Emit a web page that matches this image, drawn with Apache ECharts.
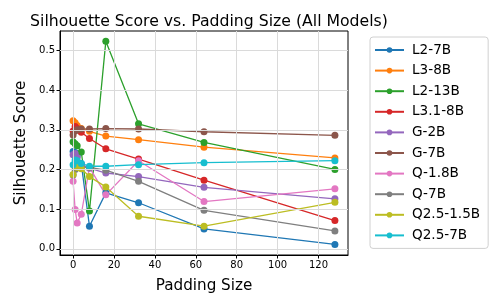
<!DOCTYPE html>
<html><head><meta charset="utf-8">
<script src="https://cdn.jsdelivr.net/npm/echarts@6/dist/echarts.min.js"></script>
<style>html,body{margin:0;padding:0;background:#fff}#c{width:498px;height:299px}</style>
</head><body><div id="c"></div>
<script>
const padding = [0, 1, 2, 4, 8, 16, 32, 64, 128];
const models = ['L2-7B','L3-8B','L2-13B','L3.1-8B','G-2B','G-7B','Q-1.8B','Q-7B','Q2.5-1.5B','Q2.5-7B'];
const colors = ['#1f77b4','#ff7f0e','#2ca02c','#d62728','#9467bd','#8c564b','#e377c2','#7f7f7f','#bcbd22','#17becf'];
const L2_7B    = [0.245, 0.243, 0.235, 0.215, 0.057, 0.141, 0.116, 0.050, 0.011];
const L3_8B    = [0.323, 0.318, 0.311, 0.303, 0.296, 0.284, 0.275, 0.256, 0.229];
const L2_13B   = [0.270, 0.265, 0.260, 0.244, 0.095, 0.523, 0.315, 0.268, 0.200];
const L31_8B   = [0.297, 0.308, 0.303, 0.294, 0.278, 0.252, 0.226, 0.173, 0.071];
const G_2B     = [0.237, 0.240, 0.230, 0.212, 0.203, 0.191, 0.182, 0.155, 0.126];
const G_7B     = [0.287, 0.297, 0.300, 0.302, 0.302, 0.303, 0.302, 0.295, 0.286];
const Q_1_8B   = [0.170, 0.099, 0.065, 0.087, 0.205, 0.136, 0.222, 0.119, 0.151];
const Q_7B     = [0.186, 0.200, 0.205, 0.205, 0.205, 0.198, 0.170, 0.097, 0.045];
const Q25_1_5B = [0.187, 0.210, 0.205, 0.202, 0.182, 0.156, 0.082, 0.057, 0.117];
const Q25_7B   = [0.212, 0.224, 0.222, 0.215, 0.208, 0.208, 0.212, 0.217, 0.222];
const allSeries = [L2_7B, L3_8B, L2_13B, L31_8B, G_2B, G_7B, Q_1_8B, Q_7B, Q25_1_5B, Q25_7B];
const xTicks = [0, 20, 40, 60, 80, 100, 120];
const yTicks = [0.0, 0.1, 0.2, 0.3, 0.4, 0.5];

const FONT = 'DejaVu Sans';
const chart = echarts.init(document.getElementById('c'), null, {renderer: 'canvas'});
const series = allSeries.map((vals, i) => ({
  name: models[i], type: 'line',
  data: vals.map((v, j) => [padding[j], v]),
  symbol: 'circle', symbolSize: 7,
  lineStyle: {width: 1.3, color: colors[i]},
  itemStyle: {color: colors[i]},
  emphasis: {disabled: true}, animation: false
}));
series.push({
  type: 'line', data: [], silent: true, animation: false,
  markLine: {
    symbol: 'none', silent: true, label: {show: false}, animation: false,
    lineStyle: {color: '#dadada', width: 1, type: 'solid'},
    data: xTicks.map(v => ({xAxis: v})).concat(yTicks.map(v => ({yAxis: v})))
  },
  z: 0
});
chart.setOption({
  animation: false,
  title: {text: 'Silhouette Score vs. Padding Size (All Models)', left: 204, top: 9, textAlign: 'center',
    textStyle: {fontFamily: FONT, fontSize: 15.7, fontWeight: 'normal', color: '#000'}},
  grid: {left: 60, top: 31, width: 288, height: 234, show: true, borderColor: '#000', borderWidth: 1, backgroundColor: 'transparent'},
  legend: {
    orient: 'vertical', left: 370, top: 37, data: models,
    itemWidth: 29, itemHeight: 7, itemGap: 6.6,
    textStyle: {fontFamily: FONT, fontSize: 13.6, lineHeight: 14, color: '#000', padding: [0,0,0,3]},
    borderColor: '#d0d0d0', borderWidth: 1, borderRadius: 3, padding: [6, 8, 6, 4]
  },
  xAxis: {
    type: 'value', min: -6.4, max: 134.4,
    name: 'Padding Size', nameLocation: 'middle', nameGap: 24,
    nameTextStyle: {fontFamily: FONT, fontSize: 15.2, color: '#000'},
    axisLine: {show: true, onZero: false, lineStyle: {color: '#000'}},
    axisTick: {show: true, customValues: xTicks, length: 3.5, lineStyle: {color: '#000'}},
    axisLabel: {customValues: xTicks, fontFamily: FONT, fontSize: 10, color: '#000', margin: 5},
    splitLine: {show: false}
  },
  yAxis: {
    type: 'value', min: -0.0157, max: 0.549,
    name: 'Silhouette Score', nameLocation: 'middle', nameGap: 26,
    nameTextStyle: {fontFamily: FONT, fontSize: 15.2, color: '#000'},
    axisLine: {show: true, onZero: false, lineStyle: {color: '#000'}},
    axisTick: {show: true, customValues: yTicks, length: 3.5, lineStyle: {color: '#000'}},
    axisLabel: {customValues: yTicks, fontFamily: FONT, fontSize: 10, color: '#000', margin: 5,
      formatter: v => v.toFixed(1)},
    splitLine: {show: false}
  },
  series: series
});
</script></body></html>
